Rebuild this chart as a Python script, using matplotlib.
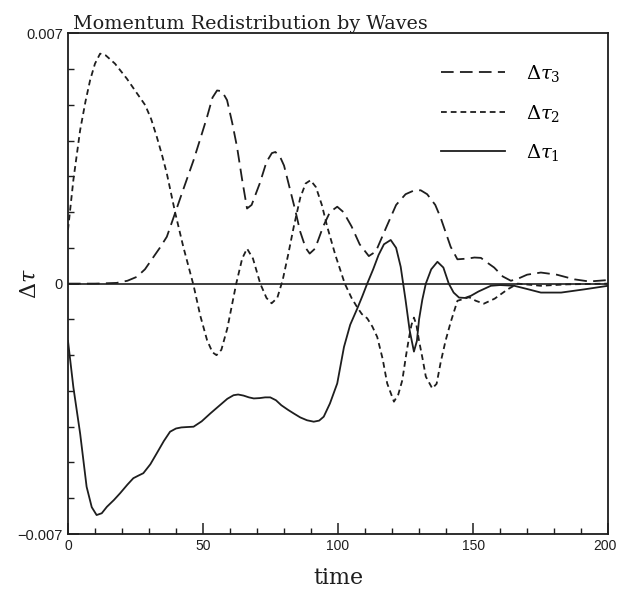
import matplotlib
matplotlib.use("Agg")
import matplotlib.pyplot as plt
from matplotlib.ticker import MultipleLocator, FixedLocator
from matplotlib.transforms import ScaledTranslation

plt.rcParams['mathtext.fontset'] = 'dejavuserif'

# values (time, delta tau)
t1 = [0, 2, 4.5, 6.9, 8.8, 10.6, 12.5, 14.4, 17, 19.3, 22, 24.2, 26, 27.9, 30.5, 32.9,
      35.5, 37.8, 40, 42, 44, 46.5, 49.5, 52.7, 55, 57, 59, 61.3, 63, 65, 67, 68.8, 71,
      73, 74.9, 77, 79, 81.5, 83.6, 86, 88.5, 91, 93, 94.7, 97, 99.7, 102.2, 104.5,
      107.1, 109, 110.8, 113, 115, 117, 119.5, 121.5, 123.2, 125, 126.5, 128.1, 129.2,
      130, 131.2, 132.5, 134.5, 136.8, 139, 141, 142.8, 144.8, 147, 149.2, 152, 156.6,
      160, 165.2, 170, 175.1, 182.6, 191.2, 200]
d1 = [-0.0016, -0.0029, -0.00419, -0.00568, -0.00625, -0.00647, -0.00642, -0.00624,
      -0.00605, -0.00586, -0.00562, -0.00544, -0.00537, -0.0053, -0.00505, -0.00474,
      -0.0044, -0.00414, -0.00405, -0.00402, -0.00401, -0.004, -0.00385, -0.00363,
      -0.00348, -0.00335, -0.00322, -0.00312, -0.0031, -0.00313, -0.00318, -0.00321,
      -0.0032, -0.00318, -0.00318, -0.00326, -0.0034, -0.00353, -0.00363, -0.00374,
      -0.00382, -0.00386, -0.00383, -0.00372, -0.00335, -0.00279, -0.00177, -0.00115,
      -0.0007, -0.00035, 0.0, 0.0004, 0.0008, 0.0011, 0.00122, 0.001, 0.00047, -0.00046,
      -0.0013, -0.0019, -0.0016, -0.001, -0.00045, 0.0, 0.0004, 0.00061, 0.00045, 0.0,
      -0.00025, -0.00039, -0.0004, -0.00034, -0.00022, -0.00006, -0.00004, -0.00006,
      -0.00015, -0.00025, -0.00025, -0.00016, -0.00006]

t2 = [0, 2, 4.5, 6.5, 8.2, 10, 11.9, 14, 17.4, 19.5, 21.8, 25, 28.6, 30.8, 32.9, 34.8,
      36.6, 39.7, 42.7, 46.5, 49, 51.5, 53.5, 55, 56.8, 59, 62.3, 64.5, 66.3, 68.5,
      71.2, 73.5, 75.4, 77.5, 79.5, 81.5, 83.6, 86, 88, 89.8, 91.8, 94, 96, 99, 102.5,
      105, 107, 108.8, 110.8, 112.7, 114.5, 116.5, 118.2, 120.7, 122.3, 123.8, 125.2,
      126.3, 127.2, 128.1, 129, 130, 131.3, 132.5, 134.9, 136.5, 138, 139.8, 141.7,
      144.2, 148.5, 151, 154, 158, 162.8, 166.5, 175, 185, 200]
d2 = [0.0015, 0.0029, 0.00429, 0.0051, 0.00569, 0.00615, 0.00643, 0.00638, 0.00615,
      0.00595, 0.00573, 0.00538, 0.00499, 0.0046, 0.0041, 0.0036, 0.00308, 0.00198,
      0.00103, -0.00005, -0.0009, -0.00158, -0.00192, -0.002, -0.00185, -0.00125, 0.0,
      0.0007, 0.00098, 0.0007, 0.0, -0.0004, -0.00055, -0.0004, 0.0001, 0.0008, 0.00159,
      0.0024, 0.0028, 0.00289, 0.0027, 0.0022, 0.00159, 0.0008, 0.0, -0.0004, -0.00065,
      -0.00085, -0.00097, -0.0012, -0.00149, -0.0021, -0.00279, -0.0033, -0.0031,
      -0.0027, -0.002, -0.0015, -0.00115, -0.00095, -0.00115, -0.0016, -0.0021, -0.0026,
      -0.00293, -0.0028, -0.0022, -0.0016, -0.00108, -0.00048, -0.00038, -0.00048,
      -0.00056, -0.00042, -0.00016, 0.0, -0.00006, -0.00002, 0.0]

t3 = [0, 10, 18, 22, 25.5, 28.5, 31.7, 34, 36.6, 39.7, 43, 46.5, 49, 51.5, 53.5, 55.2,
      57, 58.9, 60.8, 62.6, 64.5, 66.3, 68, 71, 73.5, 75.5, 76.8, 78.5, 80, 82, 84,
      86, 88, 89.5, 91.5, 94.5, 97, 99.7, 102, 105, 108, 111.4, 114, 118, 121.5, 125,
      128, 130.6, 133, 136, 138, 141.7, 144.2, 148, 150.5, 152.9, 155, 157.8, 161, 164,
      167, 170, 175.1, 181, 187.5, 193, 200]
d3 = [0.0, 0.0, 0.00002, 0.00008, 0.00019, 0.0004, 0.00075, 0.001, 0.00131, 0.00198,
      0.0027, 0.00345, 0.00405, 0.00466, 0.0052, 0.0054, 0.00538, 0.00513, 0.0045,
      0.00382, 0.0029, 0.0021, 0.0022, 0.0028, 0.0034, 0.00365, 0.00368, 0.00355,
      0.0033, 0.0027, 0.0021, 0.00145, 0.001, 0.00084, 0.00098, 0.0016, 0.002, 0.00215,
      0.002, 0.0016, 0.0011, 0.00077, 0.0009, 0.0016, 0.0022, 0.0025, 0.0026, 0.00261,
      0.0025, 0.0022, 0.00184, 0.00103, 0.00068, 0.0007, 0.00073, 0.00072, 0.0006,
      0.00045, 0.0002, 0.00008, 0.00015, 0.00025, 0.00031, 0.00025, 0.00012, 0.00006,
      0.0001]

x_ticks = [0, 50, 100, 150, 200]

fig = plt.figure(figsize=(6.18, 5.99), dpi=100)
ax = fig.add_axes([0.110, 0.1085, 0.874, 0.836])

ink = '#1e1e1e'
ax.axhline(0, color=ink, lw=1.2, zorder=1)
ax.plot(t3, d3, color=ink, lw=1.3, dashes=(7, 3.5), label=r'$\Delta\tau_3$')
ax.plot(t2, d2, color=ink, lw=1.3, dashes=(3.2, 2.2), label=r'$\Delta\tau_2$')
ax.plot(t1, d1, color=ink, lw=1.3, label=r'$\Delta\tau_1$')

ax.set_xlim(0, 200)
ax.set_ylim(-0.007, 0.007)
ax.xaxis.set_major_locator(FixedLocator(x_ticks))
ax.xaxis.set_minor_locator(MultipleLocator(10))
ax.yaxis.set_major_locator(FixedLocator([-0.007, 0, 0.007]))
ax.yaxis.set_minor_locator(MultipleLocator(0.001))
ax.set_yticklabels(['\u22120.007', '0', '0.007'])
ax.tick_params(which='both', direction='in', top=False, right=False, colors=ink)
ax.tick_params(axis='y', labelsize=10.5)
ax.tick_params(axis='x', labelsize=10)
ax.tick_params(which='major', length=8, width=1.1)
ax.tick_params(which='minor', length=4, width=1.0)
for s in ax.spines.values():
    s.set_linewidth(1.3)
    s.set_color(ink)
for lab in ax.get_yticklabels() + ax.get_xticklabels():
    lab.set_fontfamily('Liberation Sans')
# keep the last x label inside the figure
last = ax.xaxis.get_major_ticks()[-1].label1
last.set_horizontalalignment('right')
last.set_transform(last.get_transform() + ScaledTranslation(9 / 100, 0, fig.dpi_scale_trans))

ax.set_title('Momentum Redistribution by Waves', loc='left', family='DejaVu Serif',
             fontsize=13.8, pad=3, x=0.01, color=ink)
ax.set_xlabel('time', family='DejaVu Serif', fontsize=16, color=ink, labelpad=10)
ax.set_ylabel(r'$\Delta\tau$', fontsize=16, color=ink)
ax.yaxis.set_label_coords(-0.052, 0.5)

ax.legend(loc='upper right', frameon=False, fontsize=14, handlelength=3.3,
          handletextpad=1.1, labelspacing=0.95, bbox_to_anchor=(0.945, 0.975))

fig.savefig('out.png', dpi=100, facecolor='white')
